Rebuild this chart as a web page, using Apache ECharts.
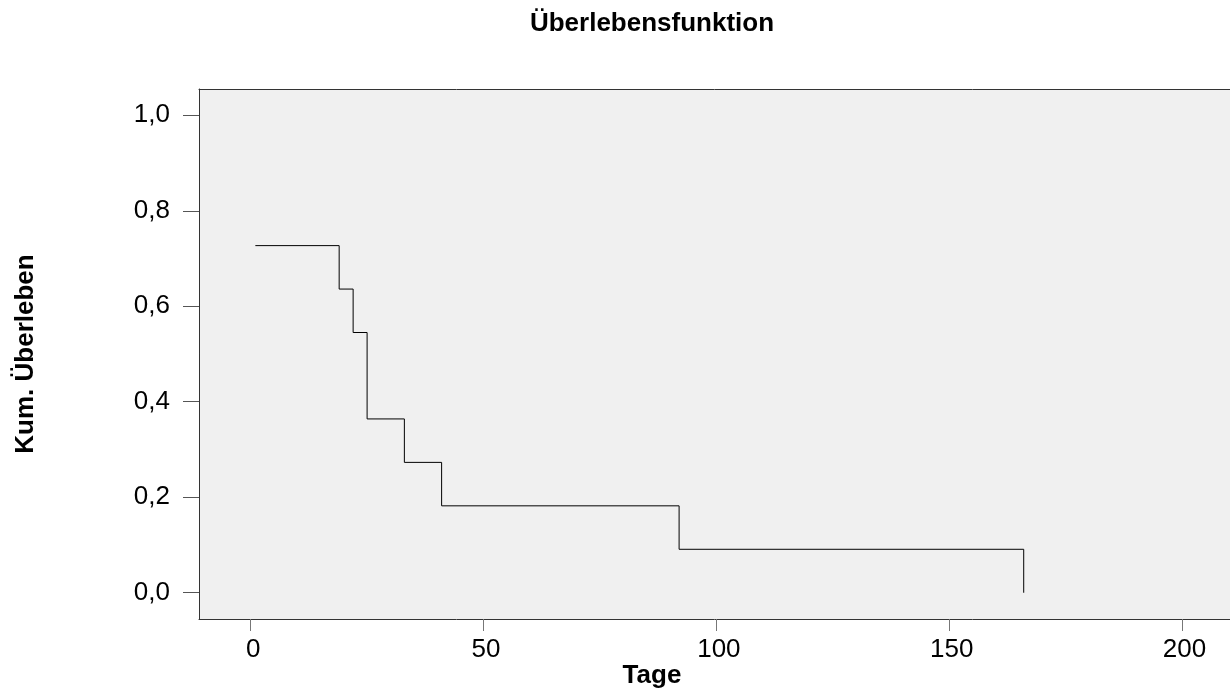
<!DOCTYPE html>
<html>
<head>
<meta charset="utf-8">
<script src="https://cdn.jsdelivr.net/npm/echarts@6/dist/echarts.min.js"></script>
<style>
html,body{margin:0;padding:0;background:#fff;}
#chart{width:1230px;height:697px;}
</style>
</head>
<body>
<div id="chart"></div>
<script>
// Event times (days) and cumulative survival after each event
const days = [1, 19, 22, 25, 33, 41, 92, 166];
const survival = [0.727, 0.636, 0.545, 0.364, 0.273, 0.182, 0.091, 0.0];
const xTicks = [0, 50, 100, 150, 200];
const yTicks = [0.0, 0.2, 0.4, 0.6, 0.8, 1.0];
const titleText = 'Überlebensfunktion';
const xName = 'Tage';
const yName = 'Kum. Überleben';

const FONT = '"Liberation Sans", Arial, sans-serif';
const points = days.map((d, i) => [d, survival[i]]);

const chart = echarts.init(document.getElementById('chart'), null, {renderer: 'canvas'});
chart.setOption({
  animation: false,
  backgroundColor: '#ffffff',
  title: [
    {text: titleText, left: 652, top: 11, padding: 0, textAlign: 'center',
     textStyle: {fontFamily: FONT, fontSize: 26, fontWeight: 'bold', color: '#000'}},
    {text: xName, left: 652, top: 663, padding: 0, textAlign: 'center',
     textStyle: {fontFamily: FONT, fontSize: 26, fontWeight: 'bold', color: '#000'}}
  ],
  grid: {left: 199, right: 0, top: 89, bottom: 78, show: true, backgroundColor: '#f0f0f0', borderWidth: 0},
  xAxis: [{
    type: 'value', min: -11.1, max: 210.3, position: 'bottom',
    splitLine: {show: false},
    axisLine: {show: true, onZero: false, lineStyle: {color: '#333', width: 1}},
    axisTick: {show: true, length: 12, customValues: xTicks, lineStyle: {color: '#777'}},
    axisLabel: {customValues: xTicks, margin: 18, padding: [0, 0, 0, 5], fontFamily: FONT, fontSize: 26, color: '#000',
      formatter: v => String(v)}
  }, {
    type: 'value', min: -11.1, max: 210.3, position: 'top',
    splitLine: {show: false},
    axisLine: {show: true, onZero: false, lineStyle: {color: '#333', width: 1}},
    axisTick: {show: false}, axisLabel: {show: false}
  }],
  yAxis: {
    type: 'value', min: -0.055, max: 1.055,
    name: yName, nameLocation: 'middle', nameGap: 160, nameRotate: 90,
    nameTextStyle: {fontFamily: FONT, fontSize: 26, fontWeight: 'bold', color: '#000'},
    splitLine: {show: false},
    axisLine: {show: true, onZero: false, lineStyle: {color: '#333', width: 1}},
    axisTick: {show: true, length: 16, customValues: yTicks, lineStyle: {color: '#555'}},
    axisLabel: {customValues: yTicks, margin: 29, fontFamily: FONT, fontSize: 26, color: '#000',
      formatter: v => v.toFixed(1).replace('.', ',')}
  },
  series: [{
    type: 'line', xAxisIndex: 0, step: 'end', data: points,
    showSymbol: false, symbol: 'none',
    lineStyle: {color: '#000', width: 1}
  }]
});
</script>
</body>
</html>
